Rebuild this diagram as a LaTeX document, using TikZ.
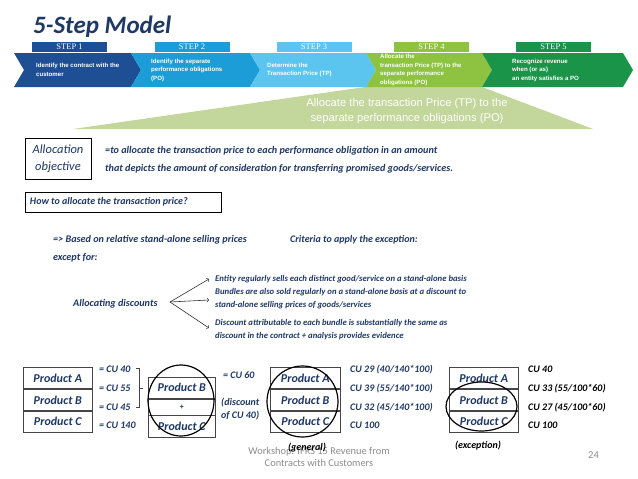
\documentclass[tikz,border=0pt]{standalone}
\usepackage{fontspec}
\setmainfont{Carlito}
\newfontfamily\arialfont{Liberation Sans}
\newfontfamily\timesfont{Liberation Serif}
\usetikzlibrary{shapes.geometric,positioning}
\definecolor{navy}{RGB}{31,56,100}
\definecolor{stepA}{RGB}{30,78,148}
\definecolor{stepB}{RGB}{29,157,216}
\definecolor{stepC}{RGB}{91,197,240}
\definecolor{stepD}{RGB}{141,195,65}
\definecolor{stepE}{RGB}{26,148,72}
\definecolor{funnel}{RGB}{195,214,155}
\definecolor{footgray}{RGB}{140,140,140}
\definecolor{boxline}{RGB}{70,70,70}
\tikzset{
  steptext/.style={anchor=west, inner sep=0pt, align=left, text=white,
    font=\arialfont\bfseries\fontsize{6.1}{8.5}\selectfont},
  steplabel/.style={minimum width=75pt, minimum height=10pt, inner sep=0pt,
    text=white, font=\timesfont\fontsize{8.5}{8.5}\selectfont},
  bodytext/.style={anchor=base west, inner sep=0pt, text=navy,
    font=\bfseries\itshape\fontsize{10.15}{12}\selectfont},
  crittext/.style={anchor=west, inner sep=0pt, align=left, text=navy,
    font=\bfseries\itshape\fontsize{8.7}{13}\selectfont},
  prodrow/.style={draw=boxline, line width=0.6pt, minimum width=69pt,
    minimum height=21.3pt, inner sep=0pt, text=navy,
    font=\bfseries\itshape\fontsize{12}{12}\selectfont},
  cutext/.style={anchor=base west, inner sep=0pt, text=navy,
    font=\bfseries\itshape\fontsize{10}{10}\selectfont},
  ring/.style={ellipse, draw=black, line width=1.2pt, inner sep=0pt},
}
% one chevron of the step band: name, left x, right x, colour, text x, text
\newcommand{\stepchevron}[6]{%
  \fill[#4] (#2,53) -- (#3,53) -- ({#3+10},70) -- (#3,87) -- (#2,87) -- ({#2+10},70) -- cycle;%
  \node[steptext] (#1) at (#5,70) {#6};%
}
% tab above the band: name, centre x, colour, label
\newcommand{\steptab}[4]{%
  \node[steplabel, fill=#3] (#1) at (#2,47) {#4};%
}

\begin{document}
\begin{tikzpicture}[x=1pt,y=-1pt]
  \useasboundingbox[fill=white] (0,0) rectangle (638,479);
  \node[anchor=base west, inner sep=0pt, text=navy,
    font=\bfseries\itshape\fontsize{25}{25}\selectfont] (title) at (33,33) {5-Step Model};

  % funnel under step 4
  \fill[funnel] (73,129) -- (365,87) -- (482,87) -- (593,129) -- cycle;
  \node[align=center, text=white, inner sep=0pt,
    font=\arialfont\fontsize{11.2}{15}\selectfont] (fnltext) at (407,111)
    {Allocate the transaction Price (TP) to the\\separate performance obligations (PO)};

  % step band
  \stepchevron{s1}{14}{131}{stepA}{36}{Identify the contract with the\\customer}
  \stepchevron{s2}{131}{250}{stepB}{151}{Identify the separate\\performance obligations\\(PO)}
  \stepchevron{s3}{250}{366}{stepC}{267}{Determine the\\Transaction Price (TP)}
  \stepchevron{s4}{366}{482}{stepD}{380}{Allocate the\\transaction Price (TP) to the\\separate performance\\obligations (PO)}
  \stepchevron{s5}{482}{623}{stepE}{512}{Recognize revenue\\when (or as)\\an entity satisfies a PO}
  \steptab{t1}{69.5}{stepA}{STEP 1}
  \steptab{t2}{192}{stepB}{STEP 2}
  \steptab{t3}{314}{stepC}{STEP 3}
  \steptab{t4}{431.5}{stepD}{STEP 4}
  \steptab{t5}{553.5}{stepE}{STEP 5}

  % allocation objective
  \node[draw=black, line width=0.7pt, minimum width=66pt, minimum height=41pt,
    inner sep=0pt, align=center, text=navy,
    font=\itshape\fontsize{12.5}{17}\selectfont] (objbox) at (58,158.5) {Allocation\\objective};
  \node[bodytext] (obj1) at (105,153) {=to allocate the transaction price to each performance obligation in an amount};
  \node[bodytext] (obj2) at (105,171) {that depicts the amount of consideration for transferring promised goods/services.};
  \node[draw=black, line width=0.7pt, minimum width=196pt, minimum height=20pt,
    inner sep=0pt, text=navy, font=\bfseries\itshape\fontsize{10}{12}\selectfont] (howbox) at (123,202)
    {\makebox[186pt][l]{How to allocate the transaction price?}};

  \node[bodytext] (based) at (53,242) {=> Based on relative stand-alone selling prices};
  \node[bodytext, font=\bfseries\itshape\fontsize{10}{12}\selectfont] (crit) at (290,242) {Criteria to apply the exception:};
  \node[bodytext] (except) at (53,260) {except for:};
  \node[bodytext] (disc) at (73,306) {Allocating discounts};

  \node[crittext] (c1) at (215,279) {Entity regularly sells each distinct good/service on a stand-alone basis};
  \node[crittext] (c2) at (215,299) {Bundles are also sold regularly on a stand-alone basis at a discount to\\stand-alone selling prices of goods/services};
  \node[crittext] (c3) at (215,330) {Discount attributable to each bundle is substantially the same as\\discount in the contract + analysis provides evidence};
  \coordinate (fork) at (170,302);
  \draw[->, black!80, line width=0.6pt] (fork) -- ([xshift=-6pt]c1.west);
  \draw[->, black!80, line width=0.6pt] (fork) -- ([xshift=-6pt,yshift=-1pt]c2.west);
  \draw[->, black!80, line width=0.6pt] (fork) -- ([xshift=-6pt,yshift=2pt]c3.west);

  % footer (behind the captions)
  \node[align=center, inner sep=0pt, text=footgray,
    font=\fontsize{10.4}{12}\selectfont] (foot) at (319,456.5) {Workshop: IFRS 15 Revenue from\\Contracts with Customers};
  \node[anchor=base west, inner sep=0pt, text=footgray, font=\fontsize{10.5}{12}\selectfont] (page) at (588,458) {24};

  % stand-alone prices
  \node[prodrow, anchor=north west] (g1a) at (23,367) {Product A};
  \node[prodrow, below=0pt of g1a] (g1b) {Product B};
  \node[prodrow, below=0pt of g1b] (g1c) {Product C};
  \node[cutext] (p1a) at (99,372) {= CU 40};
  \node[cutext] (p1b) at (99,391) {= CU 55};
  \node[cutext] (p1c) at (99,410) {= CU 45};
  \node[cutext] (p1t) at (99,428) {= CU 140};
  \draw[boxline, line width=0.6pt] (136,368) -- (139,368) -- (139,407) -- (136,407);
  \draw[boxline, line width=0.6pt] (139,388) -- (143,388);

  % bundle
  \node[prodrow, anchor=north west, minimum width=67pt, minimum height=21pt] (g2a) at (148,377) {Product B};
  \node[prodrow, below=0pt of g2a, minimum width=67pt, minimum height=16pt,
    font=\bfseries\fontsize{8}{8}\selectfont] (g2b) {+};
  \node[prodrow, below=0pt of g2b, minimum width=67pt, minimum height=22pt] (g2c) {Product C};
  \node[ring, minimum width=66pt, minimum height=71pt] (ring2) at (181,400.5) {};
  \node[cutext] (p2a) at (223,378) {= CU 60};
  \node[cutext, anchor=north west, align=left, font=\bfseries\itshape\fontsize{10}{12.5}\selectfont] (p2b) at (221,398) {(discount\\of CU 40)};

  % general rule
  \node[prodrow, anchor=north west, minimum width=70pt] (g3a) at (270,367) {Product A};
  \node[prodrow, below=0pt of g3a, minimum width=70pt] (g3b) {Product B};
  \node[prodrow, below=0pt of g3b, minimum width=70pt] (g3c) {Product C};
  \node[ring, minimum width=71pt, minimum height=71pt] (ring3) at (302.5,401.5) {};
  \node[cutext] (p3a) at (350,372) {CU 29 (40/140*100)};
  \node[cutext] (p3b) at (350,391) {CU 39 (55/140*100)};
  \node[cutext] (p3c) at (350,410) {CU 32 (45/140*100)};
  \node[cutext] (p3t) at (350,428) {CU 100};
  \node[cutext, anchor=base, text=black] (gen) at (307,450) {(general)};

  % exception
  \node[prodrow, anchor=north west] (g4a) at (449,367) {Product A};
  \node[prodrow, below=0pt of g4a] (g4b) {Product B};
  \node[prodrow, below=0pt of g4b] (g4c) {Product C};
  \node[ring, minimum width=71pt, minimum height=49pt] (ring4) at (481.5,406.5) {};
  \node[cutext, text=black] (p4a) at (528,372) {CU 40};
  \node[cutext, text=black] (p4b) at (528,391) {CU 33 (55/100*60)};
  \node[cutext, text=black] (p4c) at (528,410) {CU 27 (45/100*60)};
  \node[cutext, text=black] (p4t) at (528,428) {CU 100};
  \node[cutext, anchor=base, text=black] (exc) at (478,448) {(exception)};
\end{tikzpicture}
\end{document}
